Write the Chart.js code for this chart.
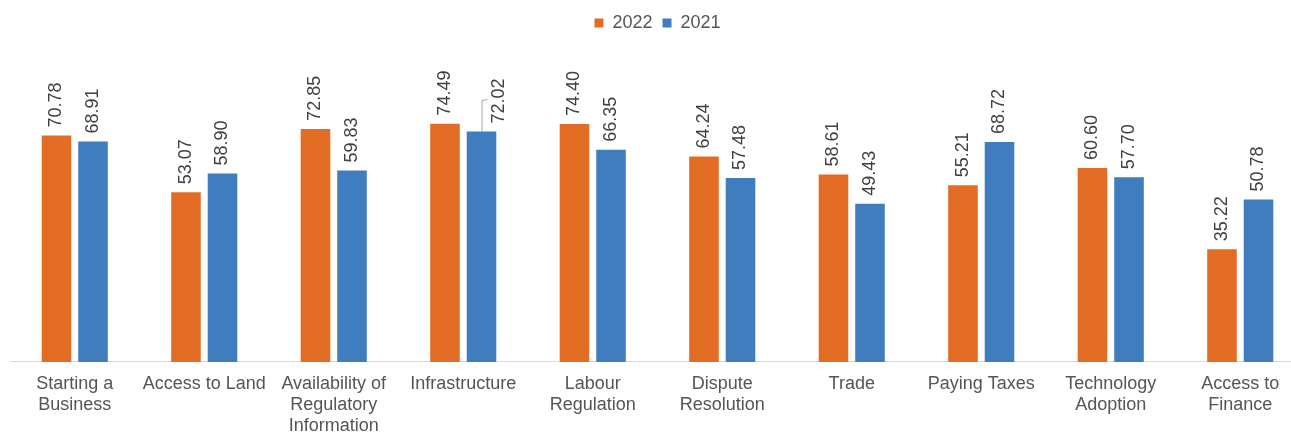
<!DOCTYPE html>
<html>
<head>
<meta charset="utf-8">
<script src="https://cdn.jsdelivr.net/npm/chart.js@4.4.1/dist/chart.umd.min.js"></script>
<style>
  html, body { margin: 0; padding: 0; background: #fff; overflow: hidden; }
  #wrap { width: 1305px; height: 449px; position: relative; }
</style>
</head>
<body>
<div id="wrap"><canvas id="myChart"></canvas></div>
<script>
// categories (multi-line labels as shown under the axis)
var categories = [
    ['Starting a', 'Business'],
    ['Access to Land'],
    ['Availability of', 'Regulatory', 'Information'],
    ['Infrastructure'],
    ['Labour', 'Regulation'],
    ['Dispute', 'Resolution'],
    ['Trade'],
    ['Paying Taxes'],
    ['Technology', 'Adoption'],
    ['Access to', 'Finance']
];
var seriesNames = ['2022', '2021'];
var values2022 = [70.78, 53.07, 72.85, 74.49, 74.40, 64.24, 58.61, 55.21, 60.60, 35.22];
var values2021 = [68.91, 58.90, 59.83, 72.02, 66.35, 57.48, 49.43, 68.72, 57.70, 50.78];

var textColor = '#555555';
var fontFam = '"Liberation Sans", Arial, sans-serif';

// rotated value labels above each bar
var valueLabels = {
    id: 'valueLabels',
    afterDatasetsDraw: function (chart) {
        var ctx = chart.ctx;
        ctx.save();
        ctx.font = '18px ' + fontFam;
        ctx.fillStyle = '#404040';
        ctx.textAlign = 'left';
        ctx.textBaseline = 'middle';
        chart.data.datasets.forEach(function (ds, di) {
            var meta = chart.getDatasetMeta(di);
            meta.data.forEach(function (bar, i) {
                var x = bar.x;
                var y = bar.y - 8;
                // Infrastructure 2021 label was moved aside with a leader line
                if (di === 1 && i === 3) {
                    ctx.strokeStyle = '#a6a6a6';
                    ctx.lineWidth = 1;
                    ctx.beginPath();
                    ctx.moveTo(x + 0.5, bar.y);
                    ctx.lineTo(x + 0.5, bar.y - 31);
                    ctx.lineTo(x + 6, bar.y - 32);
                    ctx.stroke();
                    x = x + 18;
                    y = bar.y - 8;
                }
                ctx.save();
                ctx.translate(x, y);
                ctx.rotate(-Math.PI / 2);
                ctx.fillText(ds.data[i].toFixed(2), 0, 0);
                ctx.restore();
            });
        });
        ctx.restore();
    }
};

var ctx = document.getElementById('myChart');
new Chart(ctx, {
    type: 'bar',
    data: {
        labels: categories,
        datasets: [
            {
                label: seriesNames[0],
                data: values2022,
                backgroundColor: '#e36c25',
                categoryPercentage: 0.564,
                barPercentage: 0.81
            },
            {
                label: seriesNames[1],
                data: values2021,
                backgroundColor: '#3f7dbf',
                categoryPercentage: 0.564,
                barPercentage: 0.81
            }
        ]
    },
    options: {
        responsive: true,
        maintainAspectRatio: false,
        animation: false,
        layout: { padding: { top: 4, left: 10, right: 0, bottom: 0 } },
        plugins: {
            legend: {
                display: true,
                position: 'top',
                labels: {
                    boxWidth: 9,
                    boxHeight: 9,
                    padding: 10,
                    color: textColor,
                    font: { size: 18, family: fontFam }
                }
            },
            tooltip: { enabled: false }
        },
        scales: {
            x: {
                grid: { display: false, drawTicks: false, tickLength: 0 },
                border: { display: true, color: '#d9d9d9', width: 1 },
                ticks: {
                    color: textColor,
                    autoSkip: false,
                    maxRotation: 0,
                    minRotation: 0,
                    padding: 12,
                    font: { size: 18, family: fontFam, lineHeight: 1.1667 }
                }
            },
            y: {
                display: false,
                min: 0,
                max: 100
            }
        }
    },
    plugins: [valueLabels]
});
</script>
</body>
</html>
